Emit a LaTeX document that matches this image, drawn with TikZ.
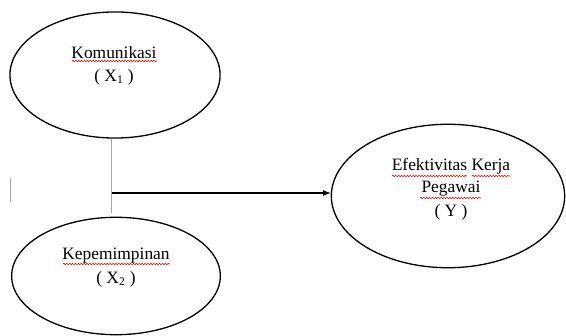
\documentclass[tikz,border=0pt]{standalone}
\usepackage{fontspec}
\setmainfont{Liberation Serif}
\usepackage{tikz}
\usetikzlibrary{shapes.geometric, decorations.pathmorphing, calc}

\tikzset{
	var/.style={draw, ellipse, line width=0.9pt, inner sep=0pt},
	vartext/.style={font=\fontsize{12}{14}\selectfont, inner sep=0pt},
	spell/.style={red, line width=0.4pt, decorate, decoration={snake, segment length=2pt, amplitude=0.5pt}}
}

\begin{document}
\begin{tikzpicture}[x=0.69pt, y=-0.69pt]
		
		\useasboundingbox (0,0) rectangle (566,336);
		
		\node[var, minimum width=145pt, minimum height=87pt] (x1) at (115,75) {};
		\node[vartext] (x1-name) at (114,53) {Komunikasi};
		\node[vartext] (x1-sym) at (114,77) {( X\textsubscript{1} )};
		
		\node[var, minimum width=144pt, minimum height=81pt] (x2) at (116,276) {};
		\node[vartext] (x2-name) at (116,256) {Kepemimpinan};
		\node[vartext] (x2-sym) at (116,279) {( X\textsubscript{2} )};
		
		\node[var, minimum width=161pt, minimum height=99pt] (y) at (448,196) {};
		\node[vartext] (y-name) at (451,166) {Efektivitas Kerja};
		\node[vartext] (y-name2) at (451,189) {Pegawai};
		\node[vartext] (y-sym) at (451,212) {( Y )};
		
		% spelling marks
		\draw[spell] (72,61) -- (157,61);
		\draw[spell] (63,264) -- (170,264);
		\draw[spell] (392,176) -- (467,176);
		\draw[spell] (472,176) -- (510,176);
		\draw[spell] (420,198) -- (481,198);
		
		\coordinate (j) at (111,213);
		\coordinate (a) at (112,193);
		\draw[gray!70, line width=0.6pt] (j |- x1.south) -- (j);
		\draw[->, >=latex, line width=0.8pt] (a) -- (a -| y.west);
		
		\draw[gray!70, line width=0.6pt] (10,178) -- (10,202);

\end{tikzpicture}
\end{document}
